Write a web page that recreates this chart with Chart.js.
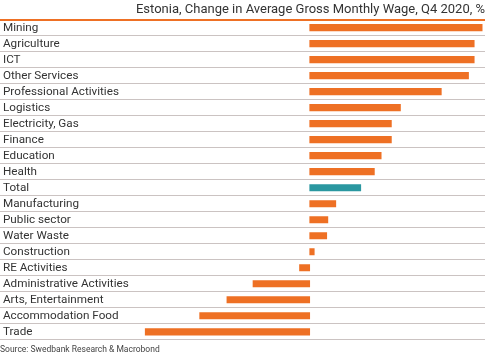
<!DOCTYPE html>
<html>
<head>
<meta charset="utf-8">
<script src="https://cdn.jsdelivr.net/npm/chart.js@4/dist/chart.umd.min.js"></script>
<style>
html,body{margin:0;padding:0;background:#fff;}
#wrap{width:489px;height:355px;position:relative;}
</style>
</head>
<body>
<div id="wrap"><canvas id="c"></canvas></div>
<script>
const categories = ["Mining","Agriculture","ICT","Other Services","Professional Activities","Logistics","Electricity, Gas","Finance","Education","Health","Total","Manufacturing","Public sector","Water Waste","Construction","RE Activities","Administrative Activities","Arts, Entertainment","Accommodation Food","Trade"];
const wageChange = [15.2,14.5,14.5,14.0,11.6,8.0,7.2,7.2,6.3,5.7,4.5,2.3,1.6,1.5,0.4,-0.9,-5.0,-7.3,-9.7,-14.5];
const titleText = "Estonia, Change in Average Gross Monthly Wage, Q4 2020, %";
const sourceText = "Source: Swedbank Research & Macrobond";

const ORANGE = "#EE7024";
const TEAL = "#2A97A0";
const GRID = "#CBC3C2";
const FONT = "Roboto, 'Liberation Sans', sans-serif";

new Chart(document.getElementById('c'), {
  type: 'bar',
  data: {
    labels: categories,
    datasets: [{
      data: wageChange,
      backgroundColor: categories.map(c => c === "Total" ? TEAL : ORANGE),
      barThickness: 6.5,
      borderWidth: 0
    }]
  },
  options: {
    indexAxis: 'y',
    responsive: true,
    maintainAspectRatio: false,
    animation: false,
    layout: { padding: { left: 0, right: 4, top: 0, bottom: 0 } },
    plugins: {
      legend: { display: false },
      tooltip: { enabled: false },
      title: {
        display: true,
        text: titleText,
        align: 'end',
        color: '#333333',
        font: { family: FONT, size: 13, weight: 'normal', lineHeight: 1.2 },
        padding: { top: 2, bottom: 2 }
      },
      subtitle: {
        display: true,
        text: sourceText,
        position: 'bottom',
        align: 'start',
        color: '#444444',
        font: { family: FONT, size: 8.5, weight: 'normal', lineHeight: 1.2 },
        padding: { top: 4.5, bottom: 0.5 }
      }
    },
    scales: {
      x: {
        type: 'linear',
        display: false,
        min: -27.3,
        max: 15.45
      },
      y: {
        type: 'category',
        offset: true,
        border: { display: false },
        afterFit: scale => { scale.width = 0; },
        grid: {
          offset: true,
          drawTicks: false,
          color: ctx => ctx.index === 0 ? ORANGE : (ctx.index >= categories.length ? 'rgba(0,0,0,0)' : GRID),
          lineWidth: ctx => ctx.index === 0 ? 2 : 1
        },
        ticks: {
          mirror: true,
          autoSkip: false,
          padding: 3,
          color: '#333333',
          font: { family: FONT, size: 11.7 }
        }
      }
    }
  }
});
</script>
</body>
</html>
